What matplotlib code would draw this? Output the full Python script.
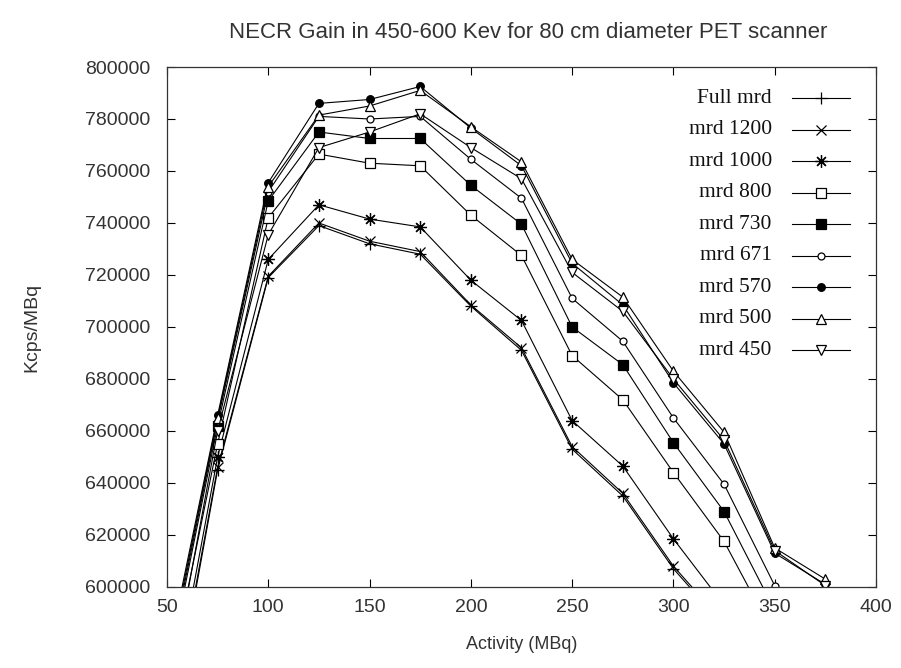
import numpy as np
import matplotlib
matplotlib.use("Agg")
import matplotlib.pyplot as plt

# Activity (MBq) sampling points
activity = [50, 75, 100, 125, 150, 175, 200, 225, 250, 275, 300, 325, 350, 375]

# NECR gain (Kcps/MBq) per mrd setting
full_mrd = [538000, 645000, 719000, 739000, 732000, 728000, 708000, 691000, 653000, 635000, 607000, 585000]
mrd_1200 = [540000, 646000, 719500, 740000, 733000, 729000, 708500, 692000, 654000, 636000, 608000, 586000]
mrd_1000 = [545000, 650000, 726000, 747000, 741500, 738500, 718000, 702500, 664000, 646500, 618500, 593000]
mrd_800 = [560000, 655000, 742000, 766500, 763000, 762000, 743000, 727500, 689000, 672000, 644000, 617500, 581000]
mrd_730 = [566000, 662000, 748500, 775000, 772500, 772500, 754500, 739500, 700000, 685500, 655500, 629000, 591000]
mrd_671 = [568000, 664000, 752000, 781000, 780000, 781000, 764500, 749500, 711000, 694500, 665000, 639500, 600500]
mrd_570 = [572000, 666000, 755500, 786000, 787500, 792500, 776500, 762000, 724500, 708500, 678500, 655000, 613000, 601000]
mrd_500 = [570000, 665000, 754000, 781500, 785000, 791000, 777000, 763500, 726000, 711500, 683000, 659500, 615000, 603000]
mrd_450 = [555000, 660000, 735500, 769000, 775000, 782000, 769000, 757000, 721000, 706000, 680000, 656500, 614000, 600500]

labels = ["Full mrd", "mrd 1200", "mrd 1000", "mrd 800", "mrd 730",
          "mrd 671", "mrd 570", "mrd 500", "mrd 450"]
series = [full_mrd, mrd_1200, mrd_1000, mrd_800, mrd_730,
          mrd_671, mrd_570, mrd_500, mrd_450]

# gnuplot-like point types: (marker, size, filled)
markers = [("+", 9, True), ("x", 7, True), ((8, 2, 0), 9, True), ("s", 6.5, False),
           ("s", 6.5, True), ("o", 5, False), ("o", 5.5, True), ("^", 7, False), ("v", 7, False)]

plt.rcParams["font.family"] = ["Liberation Sans", "DejaVu Sans"]
text_color = "#333333"

fig = plt.figure(figsize=(9.01, 6.68), dpi=100)
ax = fig.add_axes([0.1853, 0.1213, 0.787, 0.7784])

for lab, vals, (m, ms, filled) in zip(labels, series, markers):
    ax.plot(activity[:len(vals)], vals, color="black", linewidth=0.8,
            marker=m, markersize=ms, markeredgewidth=0.9,
            markerfacecolor="black" if filled else "white",
            markeredgecolor="black", clip_on=True)

ax.set_xlim(50, 400)
ax.set_ylim(600000, 800000)
ax.set_xticks(np.arange(50, 401, 50))
ax.set_yticks(np.arange(600000, 800001, 20000))
ax.tick_params(direction="in", top=True, right=True, length=6, width=0.8,
               labelsize=14, labelcolor=text_color)
ax.tick_params(axis="y", pad=12)
ax.tick_params(axis="x", pad=9)
for s in ax.spines.values():
    s.set_linewidth(0.9)
    s.set_color("#333333")

ax.set_title("NECR Gain in 450-600 Kev for 80 cm diameter PET scanner",
             fontsize=16, color=text_color, pad=21, x=0.51)
ax.set_xlabel("Activity (MBq)", fontsize=13, color=text_color, labelpad=14)
ax.set_ylabel("Kcps/MBq", fontsize=14, color=text_color, labelpad=32)

# right-aligned gnuplot style key drawn in axes coordinates
y0, dy = 0.940, 0.0606
for i, (lab, (m, ms, filled)) in enumerate(zip(labels, markers)):
    y = y0 - i * dy
    ax.text(0.853, y, lab, transform=ax.transAxes, ha="right", va="center",
            fontsize=15.5, family="Liberation Serif", color="#111111")
    ax.plot([0.8815, 0.963], [y, y], transform=ax.transAxes, color="black",
            linewidth=0.8, clip_on=False)
    ax.plot([0.9224], [y], transform=ax.transAxes, color="black",
            marker=m, markersize=ms, markeredgewidth=0.9,
            markerfacecolor="black" if filled else "white",
            markeredgecolor="black", clip_on=False)

fig.savefig("out.png", dpi=100)
